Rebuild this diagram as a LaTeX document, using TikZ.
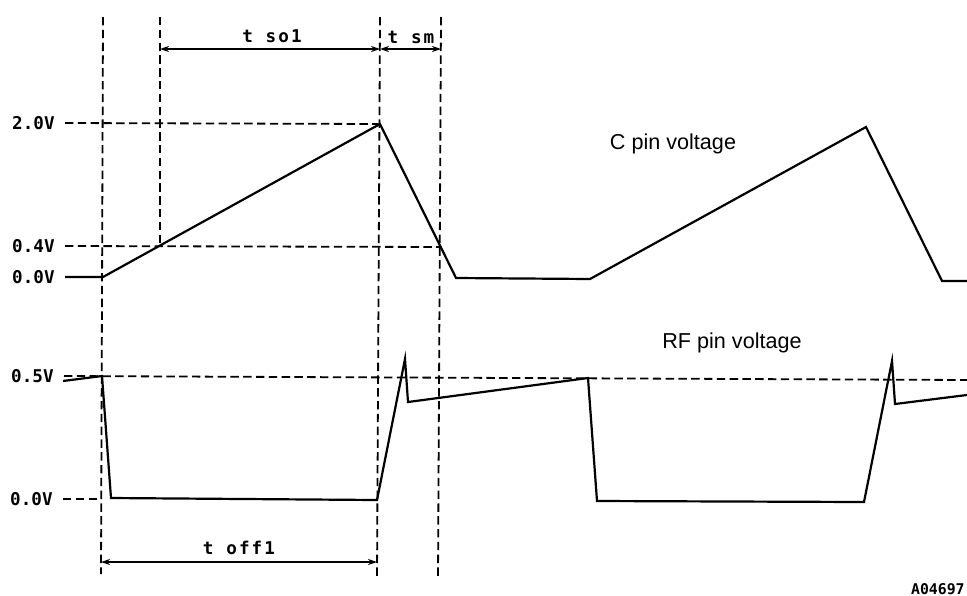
\documentclass[tikz,border=0pt]{standalone}
\usepackage{fontspec}
\setmainfont{Liberation Sans}
\newfontfamily\plotfont{DejaVu Sans Mono}
\newfontfamily\plotwide[LetterSpace=12]{DejaVu Sans Mono}
\usetikzlibrary{arrows.meta}
\begin{document}
\begin{tikzpicture}[x=0.5pt,y=-0.5pt,
 wave/.style={line width=1.1pt, line join=miter},
 guide/.style={line width=0.9pt, dash pattern=on 4.2pt off 2.2pt},
 dimline/.style={line width=0.9pt, {Stealth[length=4.5pt,width=3pt]}-{Stealth[length=4.5pt,width=3pt]}},
 vlab/.style={font=\plotfont\bfseries\fontsize{8.8}{10}\selectfont, anchor=east, inner sep=0pt},
 tlab/.style={font=\plotwide\bfseries\fontsize{8.8}{10}\selectfont, inner sep=0pt},
 caption/.style={font=\fontsize{10.8}{13}\selectfont, inner sep=0pt}]
\useasboundingbox (0,0) rectangle (967,595);
% guide coordinates
\coordinate (g1t) at (103,17);  \coordinate (g1b) at (101,574);
\coordinate (g2t) at (160,17);  \coordinate (g2b) at (160,246);
\coordinate (g3t) at (380,17);  \coordinate (g3b) at (377,576);
\coordinate (g4t) at (441,17);  \coordinate (g4b) at (438,577);
% vertical guides
\draw[guide] (g1t) -- (g1b);
\draw[guide] (g2t) -- (g2b);
\draw[guide] (g3t) -- (g3b);
\draw[guide] (g4t) -- (g4b);
% voltage labels
\node[vlab] (v20) at (55,123) {2.0V};
\node[vlab] (v04) at (55,246) {0.4V};
\node[vlab] (v00c) at (55,277) {0.0V};
\node[vlab] (v05) at (54,376) {0.5V};
\node[vlab] (v00r) at (53,499) {0.0V};
% horizontal guides
\coordinate (h20e) at (380,124);
\coordinate (h04e) at (441,247);
\coordinate (h05e) at (967,380);
\coordinate (h00e) at (101,499);
\draw[guide] (v20.east) ++(10,0) -- (h20e);
\draw[guide] (v04.east) ++(10,0) -- (h04e);
\draw[guide] (v05.east) ++(10,0) -- (h05e);
\draw[guide] (v00r.east) ++(10,0) -- (h00e);
% C pin waveform
\draw[wave] (65,277) -- (103,277) -- (380,124) -- (456,278) -- (590,279)
  -- (866,127) -- (942,281) -- (967,281);
% RF pin waveform
\draw[wave] (63,381) -- (102,376) -- (111,498) -- (377,500) -- (405,359)
  -- (408,402) -- (588,378) -- (597,501) -- (864,502) -- (892,361)
  -- (895,404) -- (967,395);
% dimension lines
\coordinate (dsoA) at (160,49); \coordinate (dsoB) at (380,49);
\coordinate (dsmB) at (441,49);
\coordinate (doffA) at (101,562); \coordinate (doffB) at (377,562);
\draw[dimline] (dsoA) -- (dsoB);
\draw[dimline] (dsoB) -- (dsmB);
\draw[dimline] (doffA) -- (doffB);
\node[tlab] (tso) at (272,36) {t so1};
\node[tlab] (tsm) at (411,37) {t sm};
\node[tlab] (toff) at (239,548) {t off1};
% captions
\node[caption] (cpin) at (673,144) {C pin voltage};
\node[caption] (rfpin) at (732,343) {RF pin voltage};
\node[inner sep=0pt, anchor=east, font=\plotfont\bfseries\fontsize{7.4}{9}\selectfont] (code) at (965,589) {A04697};
\end{tikzpicture}
\end{document}
